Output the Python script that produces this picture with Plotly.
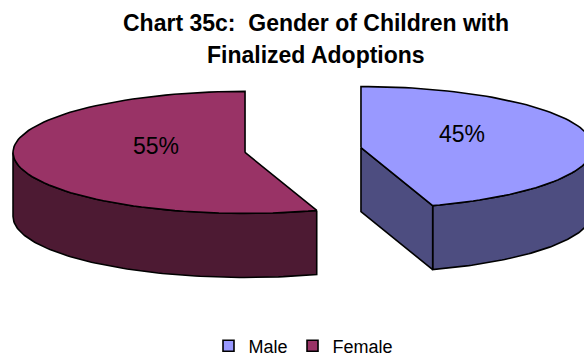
import numpy as np
import plotly.graph_objects as go

# Data
categories = ["Male", "Female"]
values = [45, 55]
top_colors = ["#9999FF", "#993366"]
side_colors = ["#4D4D80", "#4D1A33"]

# 3D pie geometry (units of pie radius)
TILT = 0.263      # vertical squash of the top face
DEPTH = 0.276     # thickness of the pie
EXPLODE = 0.253   # slice pull-out distance
LABEL_R = 0.415
LABEL_LIFT = 0.043
LABEL_NUDGE_X = 0.026
PX_PER_UNIT = 232.0
CX, CY = 303.0, 150.0  # pie centre in page pixels
W, H = 584, 358
FONT = "Liberation Sans, Arial, sans-serif"


def project(u, v, z):
    return u, v * TILT + z


def arc(ox, oy, a, b, z, n=90):
    t = np.linspace(a, b, n)
    return project(ox + np.sin(t), oy + np.cos(t), z)


fig = go.Figure()

total = float(sum(values))
start = 0.0
label_annotations = []
for cat, val, topc, sidec in zip(categories, values, top_colors, side_colors):
    span = 2 * np.pi * val / total
    ts, te = start, start + span
    mid = (ts + te) / 2
    ox, oy = EXPLODE * np.sin(mid), EXPLODE * np.cos(mid)
    faces = []

    # outer rim, front half only
    a, b = max(ts, np.pi / 2), min(te, 3 * np.pi / 2)
    if b > a:
        xt, yt = arc(ox, oy, a, b, 0.0)
        xb, yb = arc(ox, oy, b, a, -DEPTH)
        faces.append((np.r_[xt, xb, xt[0]], np.r_[yt, yb, yt[0]], sidec))

    # radial cut faces facing the viewer
    for ang, normal in ((ts, ts - np.pi / 2), (te, te + np.pi / 2)):
        if np.cos(normal) < -1e-6:
            pts = [(ox, oy, 0.0), (ox + np.sin(ang), oy + np.cos(ang), 0.0),
                   (ox + np.sin(ang), oy + np.cos(ang), -DEPTH), (ox, oy, -DEPTH),
                   (ox, oy, 0.0)]
            px, py = zip(*[project(*p) for p in pts])
            faces.append((np.array(px), np.array(py), sidec))

    # top face
    xa, ya = arc(ox, oy, ts, te, 0.0)
    cx, cy = project(ox, oy, 0.0)
    faces.append((np.r_[cx, xa, cx], np.r_[cy, ya, cy], topc))

    for fx, fy, col in faces:
        fig.add_trace(go.Scatter(
            x=fx, y=fy, mode="lines", fill="toself", fillcolor=col,
            line=dict(color="black", width=1.6), hoverinfo="skip",
            showlegend=False))

    lx, ly = project(ox + LABEL_R * np.sin(mid), oy + LABEL_R * np.cos(mid), 0.0)
    label_annotations.append(dict(
        x=lx + LABEL_NUDGE_X, y=ly + LABEL_LIFT, xref="x", yref="y",
        showarrow=False, text=f"{val / total * 100:.0f}%",
        font=dict(family=FONT, size=23, color="black")))
    start = te

# legend entries
for cat, topc in zip(categories, top_colors):
    fig.add_trace(go.Scatter(
        x=[None], y=[None], mode="markers", name=cat,
        marker=dict(symbol="square", size=11, color=topc,
                    line=dict(color="black", width=1.6))))

title_font = dict(family=FONT, size=23, color="black")
title_annotations = [
    dict(x=316 / W, y=1 - 22.5 / H, xref="paper", yref="paper", showarrow=False,
         text="<b>Chart 35c:  Gender of Children with</b>", font=title_font,
         xanchor="center", yanchor="middle"),
    dict(x=316 / W, y=1 - 54.5 / H, xref="paper", yref="paper", showarrow=False,
         text="<b>Finalized Adoptions</b>", font=title_font,
         xanchor="center", yanchor="middle"),
]

fig.update_layout(
    width=W, height=H,
    margin=dict(l=0, r=0, t=0, b=0, autoexpand=False),
    paper_bgcolor="white", plot_bgcolor="white",
    xaxis=dict(range=[-CX / PX_PER_UNIT, (W - CX) / PX_PER_UNIT], visible=False,
               fixedrange=True),
    yaxis=dict(range=[-(H - CY) / PX_PER_UNIT, CY / PX_PER_UNIT], visible=False,
               fixedrange=True),
    showlegend=True,
    legend=dict(orientation="h", x=303.5 / W, xanchor="center",
                y=1 - 346 / H, yanchor="middle",
                font=dict(family=FONT, size=18, color="black"),
                bgcolor="rgba(0,0,0,0)"),
    annotations=label_annotations + title_annotations,
)

fig.write_html("out.html")
